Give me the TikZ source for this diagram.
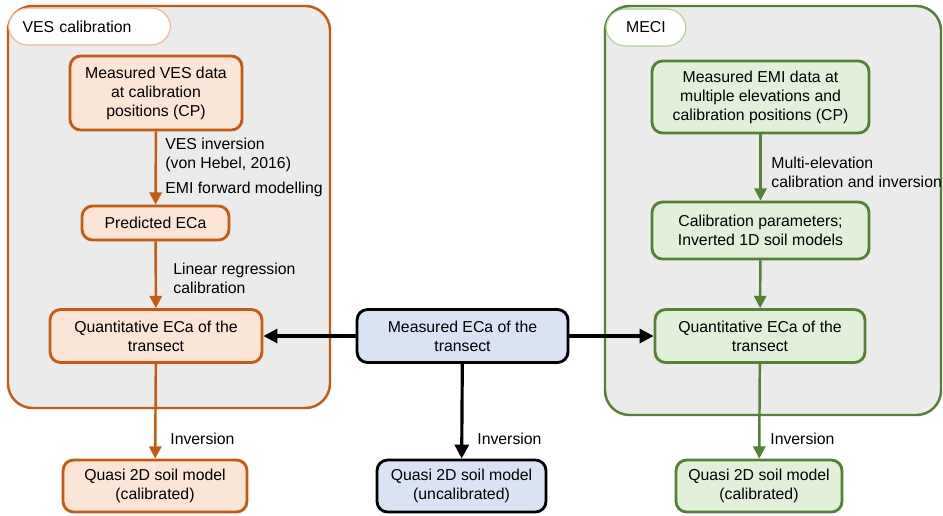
\documentclass[tikz,border=0pt]{standalone}
\usepackage{fontspec}
\setmainfont{Liberation Sans}
\usetikzlibrary{arrows.meta}
\definecolor{vesorange}{HTML}{C55A11}
\definecolor{vesfill}{HTML}{FBE5D6}
\definecolor{vestab}{HTML}{F4B183}
\definecolor{mecigreen}{HTML}{548235}
\definecolor{mecifill}{HTML}{E2F0D9}
\definecolor{mecitab}{HTML}{A9D18E}
\definecolor{measblue}{HTML}{DAE3F3}
\definecolor{panelgray}{HTML}{EBEBEB}

\begin{document}
\begin{tikzpicture}[x=0.02cm, y=-0.02cm,
  box/.style={rectangle, rounded corners=6pt, line width=1.6pt, align=center, inner sep=1pt, font=\fontsize{9}{10.8}\selectfont},
  panel/.style={rounded corners=14pt, line width=1.4pt, fill=panelgray},
  tab/.style={rectangle, rounded corners=11pt, fill=white, line width=0.6pt, minimum height=0.74cm, font=\fontsize{9}{10.8}\selectfont},
  note/.style={anchor=west, align=left, inner xsep=0pt, font=\fontsize{9}{10.8}\selectfont},
  flow/.style={line width=1.4pt, -{Triangle[length=7pt, width=7pt]}},
  link/.style={line width=1.8pt, -{Triangle[length=8pt, width=8pt]}}
]
\useasboundingbox (0,0) rectangle (943,515);

% panels
\draw[panel, draw=vesorange] (8,6) rectangle (330,408);
\draw[panel, draw=mecigreen] (605,6) rectangle (941,415);
\node[tab, draw=vestab, anchor=west, minimum width=3.24cm, text width=2.68cm, inner xsep=0.28cm, align=left] (vestitle) at (8,26.5) {VES calibration};
\node[tab, draw=mecitab, minimum width=1.6cm] (mecititle) at (646,27.5) {MECI};

% VES calibration
\node[box, draw=vesorange, fill=vesfill, minimum width=3.44cm, minimum height=1.48cm] (vesdata) at (156,93) {Measured VES data\\at calibration\\positions (CP)};
\node[box, draw=vesorange, fill=vesfill, minimum width=2.94cm, minimum height=0.68cm] (vespred) at (155.5,223) {Predicted ECa};
\node[box, draw=vesorange, fill=vesfill, minimum width=4.24cm, minimum height=1.06cm] (vesquant) at (156,336) {Quantitative ECa of the\\transect};
\node[box, draw=vesorange, fill=vesfill, minimum width=3.68cm, minimum height=1.04cm] (vesquasi) at (155,486) {Quasi 2D soil model\\(calibrated)};

% centre
\node[box, draw=black, fill=measblue, minimum width=4.22cm, minimum height=1.06cm] (meas) at (462.5,336) {Measured ECa of the\\transect};
\node[box, draw=black, fill=measblue, minimum width=3.38cm, minimum height=1.04cm] (uncal) at (461.5,486) {Quasi 2D soil model\\(uncalibrated)};

% MECI
\node[box, draw=mecigreen, fill=mecifill, minimum width=4.34cm, minimum height=1.44cm] (emidata) at (760.5,97) {Measured EMI data at\\multiple elevations and\\calibration positions (CP)};
\node[box, draw=mecigreen, fill=mecifill, minimum width=4.34cm, minimum height=1.14cm] (calpar) at (760.5,230.5) {Calibration parameters;\\Inverted 1D soil models};
\node[box, draw=mecigreen, fill=mecifill, minimum width=4.2cm, minimum height=1.06cm] (meciquant) at (760,336) {Quantitative ECa of the\\transect};
\node[box, draw=mecigreen, fill=mecifill, minimum width=3.32cm, minimum height=1.04cm] (meciquasi) at (759,486) {Quasi 2D soil model\\(calibrated)};

% step labels
\node[note] (vesinv) at (165,154.5) {VES inversion\\(von Hebel, 2016)};
\node[note] (emifwd) at (165,189.5) {EMI forward modelling};
\node[note] (linreg) at (173,278.5) {Linear regression\\calibration};
\node[note] (vesinvq) at (170,439) {Inversion};
\node[note] (measinv) at (477,439) {Inversion};
\node[note] (multiel) at (771,172.5) {Multi-elevation\\calibration and inversion};
\node[note] (meciinv) at (770,439) {Inversion};

% connectors
\draw[flow, vesorange] (vesdata) -- (vespred);
\draw[flow, vesorange] (vespred) -- (vesquant);
\draw[flow, vesorange] (vesquant) -- (vesquasi);
\draw[flow, mecigreen] (emidata) -- (calpar);
\draw[flow, mecigreen] (calpar) -- (meciquant);
\draw[flow, mecigreen] (meciquant) -- (meciquasi);
\draw[link] (meas) -- (vesquant);
\draw[link] (meas) -- (meciquant);
\draw[link] (meas) -- (uncal);
\end{tikzpicture}
\end{document}
